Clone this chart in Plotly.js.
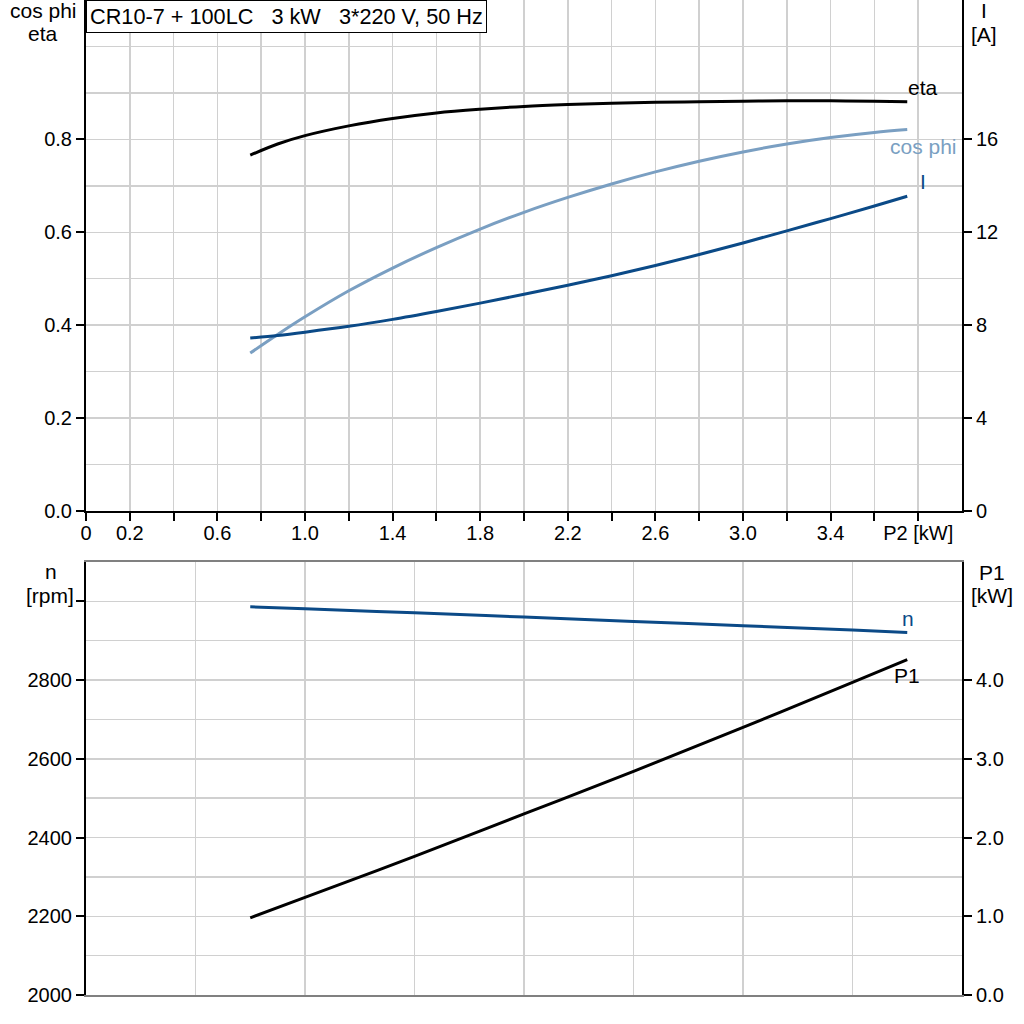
<!DOCTYPE html>
<html>
<head>
<meta charset="utf-8">
<script src="https://cdn.plot.ly/plotly-3.0.1.min.js"></script>
<style>html,body{margin:0;padding:0;background:#fff;}#chart{width:1024px;height:1024px;}</style>
</head>
<body>
<div id="chart"></div>
<script>
// ---- Data ----
const p2Top = [0.75, 0.875, 1.0, 1.2, 1.4, 1.6, 1.8, 2.0, 2.2, 2.4, 2.6, 2.8, 3.0, 3.2, 3.4, 3.6, 3.75];
const etaValues = [0.766, 0.790, 0.808, 0.829, 0.845, 0.857, 0.865, 0.871, 0.875, 0.878, 0.880, 0.881, 0.882, 0.883, 0.883, 0.882, 0.881];
const cosPhiValues = [0.340, 0.380, 0.418, 0.474, 0.523, 0.567, 0.607, 0.643, 0.675, 0.704, 0.730, 0.753, 0.773, 0.790, 0.804, 0.815, 0.821];
const currentValues = [7.45, 7.56, 7.70, 7.95, 8.25, 8.59, 8.95, 9.33, 9.72, 10.13, 10.57, 11.04, 11.54, 12.06, 12.59, 13.13, 13.55];

const p2Bottom = [0.75, 1.0, 1.5, 2.0, 2.5, 3.0, 3.5, 3.75];
const speedValues = [2986, 2981, 2971, 2960, 2949, 2938, 2927, 2921];
const p1Values = [0.98, 1.24, 1.76, 2.30, 2.84, 3.40, 3.97, 4.26];

const xTickVals = [0, 0.2, 0.4, 0.6, 0.8, 1.0, 1.2, 1.4, 1.6, 1.8, 2.0, 2.2, 2.4, 2.6, 2.8, 3.0, 3.2, 3.4, 3.6, 3.8];
const xTickText = ['0', '0.2', '', '0.6', '', '1.0', '', '1.4', '', '1.8', '', '2.2', '', '2.6', '', '3.0', '', '3.4', '', 'P2 [kW]'];
const etaTickVals = [0, 0.2, 0.4, 0.6, 0.8];
const currentTickVals = [0, 4, 8, 12, 16];
const speedTickVals = [2000, 2200, 2400, 2600, 2800, 3000];
const speedTickText = ['2000', '2200', '2400', '2600', '2800', ''];
const p1TickVals = [0, 1, 2, 3, 4];
const p1TickText = ['0.0', '1.0', '2.0', '3.0', '4.0'];

const titleText = 'CR10-7 + 100LC\u00a0\u00a0\u00a03 kW\u00a0\u00a0\u00a03*220 V, 50 Hz';

// ---- Styles ----
const FONT = 'Liberation Sans, Arial, sans-serif';
const BLACK = '#000000';
const LIGHTBLUE = '#7a9fc2';
const DARKBLUE = '#0b4a87';
const GRID = '#d0d0d0';

const traces = [
  {x: p2Top, y: etaValues, xaxis: 'x', yaxis: 'y', mode: 'lines', line: {color: BLACK, width: 3, shape: 'spline', smoothing: 1}, hoverinfo: 'skip'},
  {x: p2Top, y: cosPhiValues, xaxis: 'x', yaxis: 'y', mode: 'lines', line: {color: LIGHTBLUE, width: 3, shape: 'spline', smoothing: 1}, hoverinfo: 'skip'},
  {x: p2Top, y: currentValues, xaxis: 'x', yaxis: 'y2', mode: 'lines', line: {color: DARKBLUE, width: 3, shape: 'spline', smoothing: 1}, hoverinfo: 'skip'},
  {x: p2Bottom, y: speedValues, xaxis: 'x2', yaxis: 'y3', mode: 'lines', line: {color: DARKBLUE, width: 3, shape: 'spline', smoothing: 1}, hoverinfo: 'skip'},
  {x: p2Bottom, y: p1Values, xaxis: 'x2', yaxis: 'y4', mode: 'lines', line: {color: BLACK, width: 3, shape: 'spline', smoothing: 1}, hoverinfo: 'skip'}
];

const axisCommon = {
  showline: true, linecolor: BLACK, linewidth: 2,
  ticks: 'outside', ticklen: 8, tickwidth: 2, tickcolor: BLACK,
  tickfont: {family: FONT, size: 20, color: BLACK},
  zeroline: false, fixedrange: true
};

const layout = {
  width: 1024, height: 1024,
  margin: {l: 86, r: 62, t: 0, b: 29, pad: 0},
  paper_bgcolor: '#ffffff', plot_bgcolor: '#ffffff',
  showlegend: false,
  font: {family: FONT, size: 21, color: BLACK},
  xaxis: Object.assign({}, axisCommon, {
    domain: [0, 1], anchor: 'y', range: [0, 4],
    tickmode: 'array', tickvals: xTickVals, ticktext: xTickText,
    ticklabelstandoff: -5,
    showgrid: true, gridcolor: GRID, gridwidth: 1.5
  }),
  yaxis: Object.assign({}, axisCommon, {
    domain: [0.48643, 1], anchor: 'x', range: [0, 1.1],
    tickmode: 'array', tickvals: etaTickVals, tickformat: '.1f',
    showgrid: true, gridcolor: GRID, gridwidth: 1.5,
    minor: {tickmode: 'linear', tick0: 0, dtick: 0.1, showgrid: true, gridcolor: GRID, gridwidth: 1.5, ticks: ''}
  }),
  yaxis2: Object.assign({}, axisCommon, {
    overlaying: 'y', side: 'right', anchor: 'x', range: [0, 22],
    tickmode: 'array', tickvals: currentTickVals, showgrid: false
  }),
  xaxis2: {
    domain: [0, 1], anchor: 'y3', range: [0, 4],
    tickmode: 'linear', tick0: 0, dtick: 0.5,
    showticklabels: false, ticks: '',
    showline: true, linecolor: '#808080', linewidth: 2, mirror: true,
    showgrid: true, gridcolor: GRID, gridwidth: 1.5,
    zeroline: false, fixedrange: true
  },
  yaxis3: Object.assign({}, axisCommon, {
    domain: [0, 0.43518], anchor: 'x2', range: [2000, 3100],
    tickmode: 'array', tickvals: speedTickVals, ticktext: speedTickText,
    showgrid: true, gridcolor: GRID, gridwidth: 1.5,
    minor: {tickmode: 'linear', tick0: 2000, dtick: 100, showgrid: true, gridcolor: GRID, gridwidth: 1.5, ticks: ''}
  }),
  yaxis4: Object.assign({}, axisCommon, {
    overlaying: 'y3', side: 'right', anchor: 'x2', range: [0, 5.5],
    tickmode: 'array', tickvals: p1TickVals, ticktext: p1TickText, showgrid: false
  }),
  annotations: [
    {xref: 'paper', yref: 'paper', x: 0, y: 1, xanchor: 'left', yanchor: 'top', text: titleText,
     showarrow: false, bgcolor: '#ffffff', bordercolor: BLACK, borderwidth: 1, borderpad: 3,
     font: {family: FONT, size: 21.7, color: BLACK}},
    {xref: 'paper', yref: 'paper', x: -0.049, y: (995 - 10.5) / 995, xanchor: 'center', yanchor: 'middle', text: 'cos phi', showarrow: false, font: {size: 21}},
    {xref: 'paper', yref: 'paper', x: -0.049, y: (995 - 33.5) / 995, xanchor: 'center', yanchor: 'middle', text: 'eta', showarrow: false, font: {size: 21}},
    {xref: 'paper', yref: 'paper', x: (984 - 86) / 876, y: (995 - 11) / 995, xanchor: 'center', yanchor: 'middle', text: 'I', showarrow: false, font: {size: 21}},
    {xref: 'paper', yref: 'paper', x: (984 - 86) / 876, y: (995 - 34) / 995, xanchor: 'center', yanchor: 'middle', text: '[A]', showarrow: false, font: {size: 21}},
    {xref: 'paper', yref: 'paper', x: (51 - 86) / 876, y: (995 - 571.5) / 995, xanchor: 'center', yanchor: 'middle', text: 'n', showarrow: false, font: {size: 21}},
    {xref: 'paper', yref: 'paper', x: (50 - 86) / 876, y: (995 - 595) / 995, xanchor: 'center', yanchor: 'middle', text: '[rpm]', showarrow: false, font: {size: 21}},
    {xref: 'paper', yref: 'paper', x: (992 - 86) / 876, y: (995 - 572) / 995, xanchor: 'center', yanchor: 'middle', text: 'P1', showarrow: false, font: {size: 21}},
    {xref: 'paper', yref: 'paper', x: (992 - 86) / 876, y: (995 - 595) / 995, xanchor: 'center', yanchor: 'middle', text: '[kW]', showarrow: false, font: {size: 21}},
    {xref: 'x', yref: 'y', x: 3.82, y: 0.911, xanchor: 'center', yanchor: 'middle', text: 'eta', showarrow: false, font: {size: 21, color: BLACK}},
    {xref: 'x', yref: 'y', x: 3.823, y: 0.784, xanchor: 'center', yanchor: 'middle', text: 'cos phi', showarrow: false, font: {size: 21, color: LIGHTBLUE}},
    {xref: 'x', yref: 'y2', x: 3.82, y: 14.17, xanchor: 'center', yanchor: 'middle', text: 'I', showarrow: false, font: {size: 21, color: DARKBLUE}},
    {xref: 'x2', yref: 'y3', x: 3.753, y: 2956, xanchor: 'center', yanchor: 'middle', text: 'n', showarrow: false, font: {size: 21, color: DARKBLUE}},
    {xref: 'x2', yref: 'y4', x: 3.749, y: 4.063, xanchor: 'center', yanchor: 'middle', text: 'P1', showarrow: false, font: {size: 21, color: BLACK}}
  ]
};

Plotly.newPlot('chart', traces, layout, {staticPlot: true, displayModeBar: false});
</script>
</body>
</html>
